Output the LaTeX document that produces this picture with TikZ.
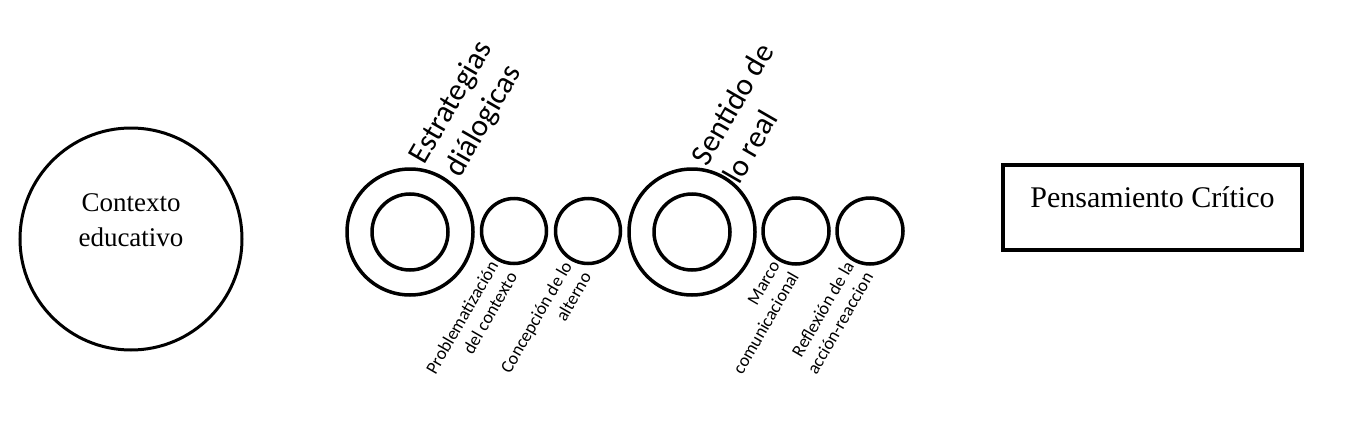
\documentclass[tikz,border=0pt]{standalone}
\usepackage{fontspec}
\setmainfont{Liberation Serif}
\newfontfamily\carlitofont{Carlito}
\usetikzlibrary{calc}
\begin{document}
\begin{tikzpicture}[x=1pt,y=-1pt,
  ring/.style={circle,draw,line width=3.5pt,inner sep=0pt},
  biglabel/.style={rotate=60,inner sep=0pt,anchor=center,font=\carlitofont\fontsize{31}{37}\selectfont},
  smalllabel/.style={rotate=60,inner sep=0pt,anchor=east,align=right,font=\carlitofont\fontsize{18}{22}\selectfont}]
\useasboundingbox (0,0) rectangle (1351,444);

% Contexto educativo
\node[circle,draw,line width=3pt,minimum size=222pt,inner sep=0pt] (ctx) at (131,239) {};
\node[align=center,inner sep=0pt,font=\fontsize{27}{35}\selectfont] (ctxtext) at (131,220) {Contexto\\educativo};

% Estrategias dialogicas group
\node[ring,minimum size=126pt] (d1) at (410,232) {};
\node[ring,minimum size=76pt] (d1in) at (410,232) {};
\node[ring,minimum size=65pt] (s1) at (514,231) {};
\node[ring,minimum size=65pt] (s2) at (588,231) {};
\node[biglabel,align=center] (l1) at ($(d1)+(58,-120)$) {Estrategias\\diálogicas};
\node[smalllabel] (ls1) at ($(s1)+(-11,37)$) {Problematización\\del contexto};
\node[smalllabel] (ls2) at ($(s2)+(-11,37)$) {Concepción de lo\\alterno};

% Sentido de lo real group
\node[ring,minimum size=126pt] (d2) at (692,232) {};
\node[ring,minimum size=76pt] (d2in) at (692,232) {};
\node[ring,minimum size=66pt] (s3) at (796,231) {};
\node[ring,minimum size=66pt] (s4) at (870,231) {};
\node[biglabel,align=left] (l2) at ($(d2)+(56,-119)$) {Sentido de\\lo real};
\node[smalllabel] (ls3) at ($(s3)+(-11,37)$) {Marco\\comunicacional};
\node[smalllabel] (ls4) at ($(s4)+(-11,37)$) {Reflexión de la\\acción-reaccion};

% Pensamiento Critico
\node[draw,line width=4.5pt,minimum width=299pt,minimum height=85pt,inner sep=0pt,
      text height=42pt,text depth=43pt,font=\fontsize{30}{36}\selectfont] (pc) at (1152.5,207.5) {Pensamiento Crítico};
\end{tikzpicture}
\end{document}
